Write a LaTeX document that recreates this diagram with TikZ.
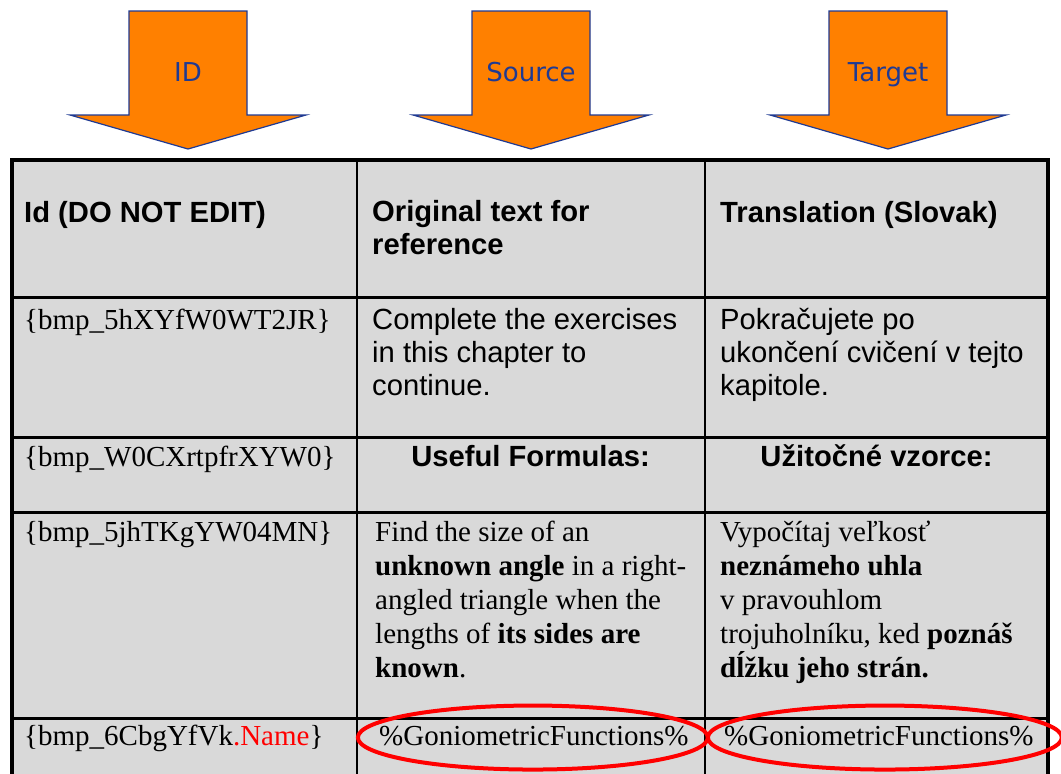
\documentclass[tikz,border=0pt]{standalone}
\usepackage{fontspec}
\setmainfont{Liberation Serif}
\setsansfont{Liberation Sans}
\newfontfamily\arrowfont{DejaVu Sans}
\usetikzlibrary{positioning}
\definecolor{arrowfill}{HTML}{FF8000}
\definecolor{arrowline}{HTML}{1F3A93}
\definecolor{cellgray}{HTML}{D9D9D9}
\definecolor{markred}{HTML}{FF0000}
\newcommand{\sanscell}{\sffamily\fontsize{29.2}{33}\selectfont}
\newcommand{\serifcell}{\rmfamily\fontsize{29}{34}\selectfont}

\begin{document}
\begin{tikzpicture}[x=1pt, y=-1pt,
  downarrow/.style={draw=arrowline, fill=arrowfill, line width=1.2pt, line join=miter},
  arrowlabel/.style={font=\arrowfont\fontsize{26}{30}\selectfont, text=arrowline, inner sep=0pt, anchor=base},
  border/.style={line width=3.5pt},
  rowrule/.style={line width=3pt},
  colrule/.style={line width=2.2pt},
  sanshead/.style={font=\sanscell\bfseries, align=left, anchor=base west, inner sep=0pt},
  sanstext/.style={font=\sanscell, align=left, anchor=base west, inner sep=0pt},
  seriftext/.style={font=\serifcell, align=left, anchor=base west, inner sep=0pt},
  idcell/.style={font=\serifcell, anchor=base west, inner sep=0pt},
  highlight/.style={draw=markred, line width=4pt}]
  \useasboundingbox (0,0) rectangle (1061,774);
  \clip (0,0) rectangle (1061,774);

  % Arrows
  \foreach \cx/\lbl in {188/ID, 531/Source, 888/Target} {
    \draw[downarrow] (\cx-59,11) -- (\cx+59,11) -- (\cx+59,115) -- (\cx+118,115)
      -- (\cx,149) -- (\cx-118,115) -- (\cx-59,115) -- cycle;
    \node[arrowlabel] (arr-\lbl) at (\cx,81) {\lbl};
  }

  % Table
  \fill[cellgray] (12,160) rectangle (1048,790);
  \foreach \y in {297, 437, 512, 718}
    \draw[rowrule] (12,\y) -- (1048,\y);
  \foreach \x in {357, 705}
    \draw[colrule] (\x,160) -- (\x,790);
  \draw[border] (12,790) -- (12,160) -- (1048,160) -- (1048,790);

  % Header row (multi-line nodes sit on their last baseline)
  \node[sanshead] (h-id) at (24,222) {Id (DO NOT EDIT)};
  \node[sanshead] (h-src) at (372,254) {Original text for\\reference};
  \node[sanshead] (h-tgt) at (720,222) {Translation (Slovak)};

  % Rows
  \node[idcell] (id-1) at (24,329) {\{bmp\_5hXYfW0WT2JR\}};
  \node[sanstext] (src-1) at (372,395) {Complete the exercises\\in this chapter to\\continue.};
  \node[sanstext] (tgt-1) at (720,395) {Pokračujete po\\ukončení cvičení v tejto\\kapitole.};

  \node[idcell] (id-2) at (24,466) {\{bmp\_W0CXrtpfrXYW0\}};
  \node[sanshead, anchor=base] (src-2) at (530.5,466) {Useful Formulas:};
  \node[sanshead, anchor=base] (tgt-2) at (876.5,466) {Užitočné vzorce:};

  \node[idcell] (id-3) at (24,541) {\{bmp\_5jhTKgYW04MN\}};
  \node[seriftext] (src-3) at (375,677) {Find the size of an\\\textbf{unknown angle} in a right-\\angled triangle when the\\lengths of \textbf{its sides are}\\\textbf{known}.};
  \node[seriftext] (tgt-3) at (720,677) {Vypočítaj veľkosť\\\textbf{neznámeho uhla}\\v pravouhlom\\trojuholníku, ked \textbf{poznáš}\\\textbf{dĺžku jeho strán.}};

  \node[idcell] (id-4) at (24,745) {\{bmp\_6CbgYfVk\textcolor{markred}{.Name}\}};
  \node[idcell] (src-4) at (379,745) {\%GoniometricFunctions\%};
  \node[idcell] (tgt-4) at (724,745) {\%GoniometricFunctions\%};

  % Marks
  \draw[highlight] ([shift={(-1,2)}]src-4.center) ellipse [x radius=175, y radius=32];
  \draw[highlight] ([shift={(6,2)}]tgt-4.center) ellipse [x radius=177, y radius=32];
\end{tikzpicture}
\end{document}
